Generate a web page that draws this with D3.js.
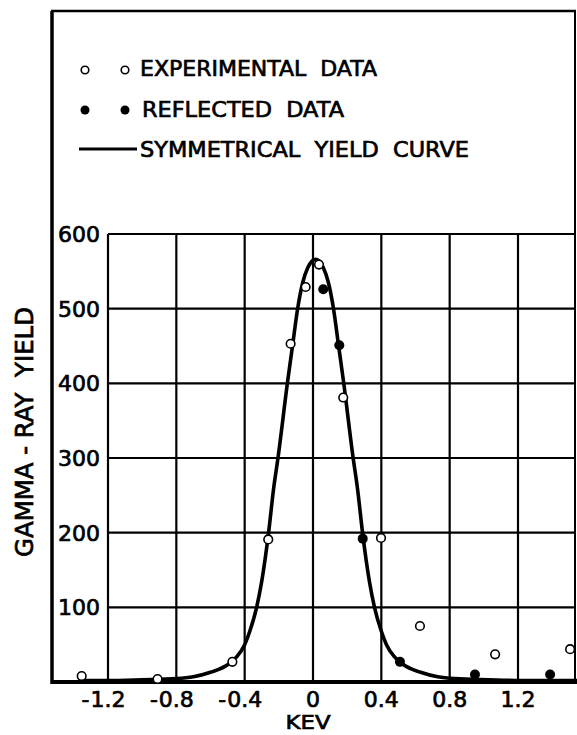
<!DOCTYPE html>
<html>
<head>
<meta charset="utf-8">
<script src="https://cdn.jsdelivr.net/npm/d3@7/dist/d3.min.js"></script>
<style>
  html, body { margin: 0; padding: 0; background: #fff; }
  svg { display: block; }
  text { font-family: "DejaVu Sans", sans-serif; fill: #000; stroke: #000; stroke-width: 0.7px; }
</style>
</head>
<body>
<svg id="chart" width="577" height="735"></svg>
<script>
// ---- data ----
const xTicks = [-1.2, -0.8, -0.4, 0, 0.4, 0.8, 1.2];
const xTickLabels = ["-1.2", "-0.8", "-0.4", "0", "0.4", "0.8", "1.2"];
const yTicks = [100, 200, 300, 400, 500, 600];
const yTickLabels = ["100", "200", "300", "400", "500", "600"];

// open circles: experimental data
const expX = [-1.354, -0.91, -0.472, -0.262, -0.131, -0.043, 0.035, 0.177, 0.398, 0.626, 1.066, 1.505];
const expY = [8, 4, 27, 191, 453, 529, 559, 381, 193, 75, 37, 44];
// filled circles: reflected data
const refX = [0.06, 0.154, 0.291, 0.509, 0.948, 1.388];
const refY = [526, 451, 192, 27, 10, 10];
// symmetrical yield curve (traced)
const curveX = [-1.35, -1.2, -1.0, -0.8, -0.7, -0.6, -0.5, -0.45, -0.4, -0.37, -0.33, -0.3, -0.26, -0.23, -0.205, -0.15, -0.12, -0.09, -0.06, -0.03, 0.015,
                0.06, 0.09, 0.12, 0.15, 0.18, 0.235, 0.26, 0.29, 0.33, 0.36, 0.40, 0.43, 0.48, 0.53, 0.63, 0.73, 0.83, 1.03, 1.23, 1.55];
const curveY = [2, 2, 3, 4.5, 7, 13, 23, 33, 50, 68, 100, 135, 200, 260, 300, 400, 450, 500, 535, 555, 566,
                555, 535, 500, 450, 400, 300, 260, 200, 135, 100, 68, 50, 33, 23, 13, 7, 4.5, 3, 2, 2];

const legendLabels = ["EXPERIMENTAL  DATA", "REFLECTED  DATA", "SYMMETRICAL  YIELD  CURVE"];
const xTitle = "KEV";
const yTitle = "GAMMA - RAY  YIELD";

// ---- layout ----
const svg = d3.select("#chart");
const frame = { left: 52, right: 575, top: 11, bottom: 682 };
const x = d3.scaleLinear().domain([-1.2, 1.2]).range([108, 518]);
const y = d3.scaleLinear().domain([0, 600]).range([682, 234]);

svg.append("rect").attr("width", 577).attr("height", 735).attr("fill", "#fff");

// grid
const g = svg.append("g");
g.selectAll("line.vg").data(xTicks).join("line")
  .attr("x1", d => x(d)).attr("x2", d => x(d))
  .attr("y1", y(600)).attr("y2", y(0))
  .attr("stroke", "#000").attr("stroke-width", 2.2);
g.selectAll("line.hg").data(yTicks).join("line")
  .attr("x1", x(-1.2)).attr("x2", frame.right)
  .attr("y1", d => y(d)).attr("y2", d => y(d))
  .attr("stroke", "#000").attr("stroke-width", 2.2);

// frame
svg.append("line").attr("x1", frame.left - 1).attr("x2", frame.right + 1).attr("y1", frame.top).attr("y2", frame.top)
  .attr("stroke", "#000").attr("stroke-width", 2.5);
svg.append("line").attr("x1", frame.right).attr("x2", frame.right).attr("y1", frame.top).attr("y2", frame.bottom)
  .attr("stroke", "#000").attr("stroke-width", 2);
svg.append("line").attr("x1", frame.left).attr("x2", frame.left).attr("y1", frame.top).attr("y2", frame.bottom + 2)
  .attr("stroke", "#000").attr("stroke-width", 3.5);
svg.append("line").attr("x1", frame.left).attr("x2", 577).attr("y1", y(0)).attr("y2", y(0))
  .attr("stroke", "#000").attr("stroke-width", 4);

// y tick labels
svg.selectAll("text.yt").data(yTicks).join("text")
  .attr("x", 100).attr("y", d => y(d)).attr("dy", "0.36em")
  .attr("text-anchor", "end").attr("font-size", 22)
  .text((d, i) => yTickLabels[i]);

// x tick labels: digits centred on tick, minus sign placed before
xTicks.forEach((v, i) => {
  const lab = xTickLabels[i];
  const neg = lab.startsWith("-");
  const digits = neg ? lab.slice(1) : lab;
  const t = svg.append("text").attr("x", x(v)).attr("y", 707)
    .attr("text-anchor", "middle").attr("font-size", 22).text(digits);
  if (neg) {
    const w = t.node().getComputedTextLength();
    svg.append("text").attr("x", x(v) - w / 2 - 1).attr("y", 707)
      .attr("text-anchor", "end").attr("font-size", 22).text("-");
  }
});

// axis titles
svg.append("text").attr("x", 308).attr("y", 729).attr("text-anchor", "middle")
  .attr("font-size", 20).attr("textLength", 45).attr("lengthAdjust", "spacingAndGlyphs").text(xTitle);
svg.append("text").attr("transform", "translate(33,432) rotate(-90)").attr("text-anchor", "middle")
  .attr("font-size", 25).attr("textLength", 250).attr("lengthAdjust", "spacingAndGlyphs")
  .style("white-space", "pre").text(yTitle);

// curve
const pts = curveX.map((cx, i) => [cx, curveY[i]]);
svg.append("path").datum(pts)
  .attr("d", d3.line().x(d => x(d[0])).y(d => y(d[1])).curve(d3.curveMonotoneX))
  .attr("fill", "none").attr("stroke", "#000").attr("stroke-width", 3.6).attr("stroke-linejoin", "round");

// points
svg.selectAll("circle.exp").data(expX.map((v, i) => [v, expY[i]])).join("circle")
  .attr("cx", d => x(d[0])).attr("cy", d => y(d[1])).attr("r", 4.3)
  .attr("fill", "#fff").attr("stroke", "#000").attr("stroke-width", 1.6);
svg.selectAll("circle.ref").data(refX.map((v, i) => [v, refY[i]])).join("circle")
  .attr("cx", d => x(d[0])).attr("cy", d => y(d[1])).attr("r", 5)
  .attr("fill", "#000");

// legend
const lg = svg.append("g");
[85, 125].forEach(cx => {
  lg.append("circle").attr("cx", cx).attr("cy", 70).attr("r", 3.8).attr("fill", "#fff").attr("stroke", "#000").attr("stroke-width", 1.6);
  lg.append("circle").attr("cx", cx).attr("cy", 110).attr("r", 4.5).attr("fill", "#000");
});
lg.append("line").attr("x1", 79).attr("x2", 137).attr("y1", 149).attr("y2", 149).attr("stroke", "#000").attr("stroke-width", 3);
const legY = [76, 117, 157];
const legX = [140, 142, 140];
const legW = [237, 202, 329];
legendLabels.forEach((t, i) => {
  lg.append("text").attr("x", legX[i]).attr("y", legY[i]).attr("font-size", 22)
    .attr("textLength", legW[i]).attr("lengthAdjust", "spacingAndGlyphs")
    .style("white-space", "pre").text(t);
});
</script>
</body>
</html>
